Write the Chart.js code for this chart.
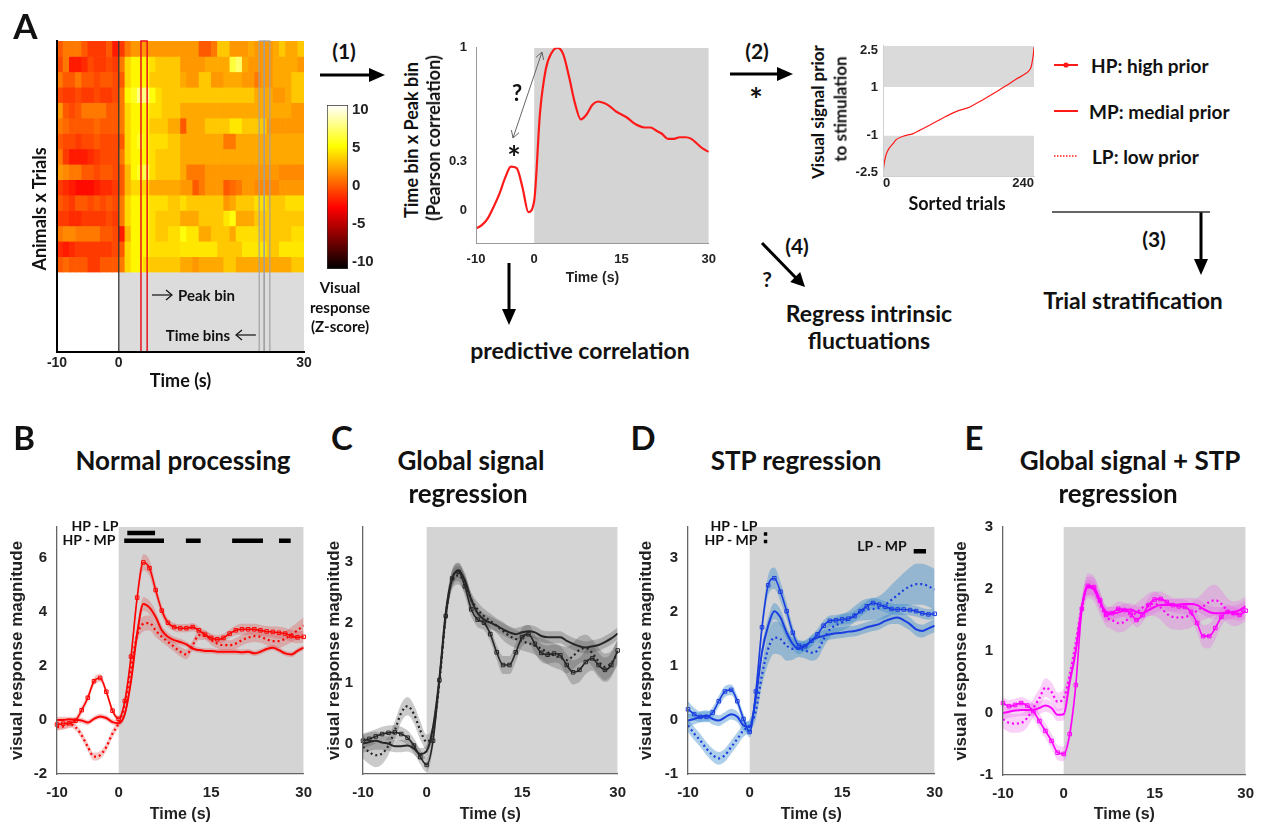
<!DOCTYPE html>
<html>
<head>
<meta charset="utf-8">
<script src="https://cdn.jsdelivr.net/npm/chart.js@4.4.1/dist/chart.umd.min.js"></script>
<style>
html,body{margin:0;padding:0;background:#fff;}
body{position:relative;width:1265px;height:826px;overflow:hidden;}
canvas{position:absolute;}
.tx{position:absolute;white-space:nowrap;font-family:Lato,"Open Sans",sans-serif;font-weight:700;color:#111;line-height:1;}
#ov{position:absolute;left:0;top:0;pointer-events:none;}
</style>
</head>
<body>
<script>
// ================= DATA =================
const TIME = [-10,-9,-8,-7,-6,-5,-4,-3,-2,-1,0,1,2,3,4,5,6,7,8,9,10,11,12,13,14,15,16,17,18,19,20,21,22,23,24,25,26,27,28,29,30];
const timeTicks = [-10,0,15,30];
const heatTicks = [-10,0,30];
const heatBins = [-9.5,-8.5,-7.5,-6.5,-5.5,-4.5,-3.5,-2.5,-1.5,-0.5,0.5,1.5,2.5,3.5,4.5,5.5,6.5,7.5,8.5,9.5,10.5,11.5,12.5,13.5,14.5,15.5,16.5,17.5,18.5,19.5,20.5,21.5,22.5,23.5,24.5,25.5,26.5,27.5,28.5,29.5];
const heatRows = [
 [0,1,1,1,0,-1,-1,-1,0,-2, -1,1,2,2,2,2,2,2,2,2, 2,2,2,0,0,1,3.5,3.5,2,2, 2,2.5,2,2,2,2.5,3.5,2.5,2.5,3.5],
 [-0.5,1,-2,-2,-1.5,-0.5,-1,-1,-0.5,-1, 1,4,5,5,5,4.2,3.5,3.5,3.5,3.5, 2,2,2,2,2.5,2.5,2.5,2.5,6.5,7.5, 2.5,2,2,2,2,2.5,2.5,2.5,2.5,2],
 [1,0,0,1,0,0,-0.5,0,0,-0.5, 0,4,5,5,5,3.5,3.5,3.5,3.5,3.5, 2.5,2,2,3.5,3.5,2,2,2.5,2.5,2.5, 2,2,1,2,2,2.5,2.5,2.5,3.5,3.5],
 [-0.5,-1,-1,-0.5,-1,-1,-0.5,-1,-1,-0.5, 1,5,6,8,8,5.5,4.2,3.5,3.5,3.5, 3.5,3.5,3.5,3.5,3.5,3.5,3.5,3.5,3.5,3.5, 3.5,3.5,2.5,2.5,2.5,2,2,2.5,3.5,3.5],
 [2,0,-0.5,0,1,1,1,1,0,0, 1,4,5,5,5,4.2,4.2,3.5,3.5,3.5, 2.5,2.5,2.5,2.5,2.5,2.5,2.5,2.5,2.5,2.5, 2.5,2.5,2.5,2.5,2.5,2.5,2.5,2.5,2,2],
 [1,0.5,0,0,0,0,0.5,0,0,0, 1,4,5,5,5,3.5,3.5,3.5,2.5,2.5, 0,2.5,2.5,2.5,3.5,3.5,3.5,3.5,4.5,4.5, 3.5,3.5,3.5,3.5,2,2,2,2,2,2],
 [0,-0.5,-0.5,-1,-0.5,-0.5,0,-0.5,-0.5,-0.5, 0,4,5,6,5,4.2,4.2,4.2,3.5,3.5, 2.5,2.5,2.5,2.5,2.5,2.5,2.5,1,1,2.5, 2.5,2.5,2.5,2.5,2.5,2.5,2.5,2.5,2.5,2.5],
 [1,-1,-2,-2,-2,-1.5,-1,-0.5,-0.5,-0.5, 1,4,5,5,5,4.2,3.5,3.5,3.5,3.5, 2.5,2.5,2.5,2.5,2.5,2.5,2.5,2.5,2.5,2.5, 2.5,2.5,2.5,2.5,2.5,2.5,2.5,2.5,2.5,2.5],
 [2,1.5,1,1,0,0,-0.5,0,0,-0.5, 0,3,5,6,7,4.2,3.5,3.5,3.5,3.5, 2.5,1,1,1,2,2,2,2,2,2, 2,2,2,2,2,2,1.5,1.5,1.5,1.5],
 [-1,-1.5,-2,-2.5,-2.5,-2.5,-2,-1.5,-1.5,-1, 0,3,4,4,4,2.5,2.5,2.5,2.5,2.5, 2,2,0,1,2,2,2,0,0.5,1, 2,2,1.5,1.5,1.5,1.5,2,2,2,2],
 [0,-0.5,-1,0,0,-0.5,0,-0.5,0,-0.5, 1,4,5,5,5,4.2,4.2,4.2,3.5,3.5, 4.2,3.5,3.5,3.5,3.5,3.5,3.5,2,2.5,3.5, 3.5,3.5,4.2,4.2,3.5,3.5,3.5,4.2,4.2,4.2],
 [-1,-1,-1.5,-1.5,-1,-1,-1,-1,-0.5,-1, 1,4,5,5,5,4.2,3.5,3.5,3.5,3.5, 2.5,2.5,2.5,3.5,3.5,3.5,3.5,4.5,5.5,2.5, 2.5,2.5,3.5,3.5,3.5,3.5,3.5,3.5,3.5,3.5],
 [1,1.5,1.5,1,1,1,1,0,0,-0.5, -2,3,5,5,5,4.2,3.5,3.5,4.2,4.2, 5.5,4.5,4.5,2.5,2.5,3.5,3.5,3.5,2.5,4.2, 4.2,4.2,4.2,3.5,3.5,3.5,3.5,3.5,4.2,4.2],
 [-1.5,-2,-1.5,-1,-1,-1,-1,-1,-1,-0.5, 0,4,5,5,5,4.2,4.2,4.2,4.2,4.2, 4.5,4.5,4.5,4.5,4.5,4.5,3.5,3.5,3.5,3.5, 4.5,4.5,4.5,4.5,3.5,3.5,4.5,4.5,4.5,4.5],
 [0,0.5,0,0,0,-1,-1,0,0,0, 1,4,5,5,4,3.5,3.5,3.5,3.5,3.5, 2.5,2.5,2,2.5,2.5,2.5,2.5,3.5,3.5,2.5, 2.5,2.5,2.5,2.5,2.5,2.5,2.5,2.5,3.5,3.5]
];
const zTicks = [-10,-5,0,5,10];
const corrVals = [-0.11,-0.09,-0.05,0.02,0.1,0.2,0.27,0.26,0.14,-0.01,0.06,0.6,0.87,0.97,1.0,0.96,0.82,0.66,0.56,0.59,0.65,0.67,0.66,0.64,0.61,0.59,0.57,0.54,0.52,0.51,0.51,0.49,0.47,0.44,0.44,0.45,0.45,0.44,0.41,0.38,0.36];
const corrTicks = [0,0.3,1];
const sortedIdx = [0,1,4,8,16,21,32,48,58,74,96,117,138,159,181,196,212,226,234,236,239,240];
const sortedVal = [-2.62,-2.3,-1.86,-1.59,-1.32,-1.16,-1.02,-0.91,-0.78,-0.57,-0.26,0,0.18,0.48,0.82,1.06,1.33,1.54,1.74,1.88,2.35,2.63];
const sortedXTicks = [0,240];
const sortedYTicks = [-2.5,-1,1,2.5];

// B: normal processing
const normHP = [-0.17,-0.14,-0.12,-0.03,0.36,0.82,1.43,1.55,1.04,0.34,0.04,0.7,2.34,4.52,5.82,5.61,4.8,4.04,3.59,3.43,3.39,3.39,3.43,3.31,3.15,3.03,2.98,3.03,3.19,3.31,3.35,3.35,3.35,3.31,3.27,3.25,3.22,3.19,3.1,3.05,3.07];
const normMP = [0,0,0.02,0,-0.02,-0.1,0.04,0.13,0.07,-0.08,-0.12,0.22,1.43,3.19,4.28,4.15,3.8,3.31,3.07,2.95,2.88,2.79,2.64,2.58,2.55,2.55,2.52,2.52,2.52,2.52,2.5,2.52,2.46,2.52,2.62,2.67,2.58,2.46,2.42,2.55,2.67];
const normLP = [-0.27,-0.24,-0.15,-0.27,-0.57,-1.0,-1.36,-1.3,-1.0,-0.5,-0.12,0.58,1.92,3.13,3.55,3.58,3.31,3.07,2.88,2.7,2.52,2.42,2.76,3.13,3.13,2.95,2.82,2.76,2.76,2.82,2.95,3.04,3.1,3.07,2.98,2.91,2.91,3.0,3.15,3.31,3.49];
const normHPerr = [0.2,0.2,0.18,0.15,0.15,0.15,0.15,0.15,0.15,0.12,0.12,0.15,0.2,0.25,0.3,0.3,0.25,0.2,0.15,0.15,0.15,0.15,0.15,0.15,0.15,0.15,0.15,0.15,0.15,0.18,0.2,0.2,0.2,0.2,0.2,0.2,0.22,0.22,0.22,0.22,0.22];
const normMPerr = [0.12,0.12,0.1,0.1,0.1,0.1,0.1,0.1,0.1,0.1,0.1,0.12,0.18,0.22,0.25,0.25,0.22,0.18,0.15,0.12,0.12,0.1,0.1,0.1,0.1,0.1,0.1,0.1,0.1,0.1,0.1,0.1,0.1,0.1,0.1,0.1,0.1,0.1,0.1,0.1,0.1];
const normLPerr = [0.12,0.12,0.12,0.12,0.15,0.15,0.15,0.15,0.15,0.15,0.15,0.18,0.22,0.25,0.28,0.28,0.25,0.2,0.18,0.18,0.18,0.18,0.18,0.18,0.18,0.18,0.18,0.18,0.18,0.2,0.2,0.2,0.22,0.22,0.22,0.25,0.25,0.25,0.28,0.3,0.3];
const normSigHPLP = [[1.4,5.9]];
const normSigHPMP = [[0.9,7.35],[10.9,13.3],[18.4,23.4],[26,27.9]];

// C: global signal regression
const gsrHP = [0.05,0.08,0.12,0.16,0.18,0.19,0.16,0.1,-0.03,-0.22,-0.35,0.05,1.05,2.11,2.73,2.84,2.6,2.22,2.05,2.0,1.81,1.51,1.3,1.3,1.51,1.76,1.81,1.65,1.5,1.47,1.49,1.46,1.3,1.18,1.22,1.35,1.41,1.3,1.22,1.3,1.54];
const gsrMP = [0,0.03,0.05,0.02,0,-0.04,-0.04,-0.03,-0.08,-0.17,-0.12,0.27,1.08,2.16,2.73,2.86,2.7,2.38,2.16,2.05,2.0,1.95,1.89,1.84,1.81,1.84,1.86,1.84,1.78,1.76,1.76,1.76,1.7,1.65,1.61,1.59,1.61,1.63,1.68,1.74,1.82];
const gsrLP = [-0.05,-0.14,-0.19,-0.16,-0.03,0.22,0.51,0.62,0.49,0.22,0.03,0.22,1.0,2.11,2.7,2.78,2.65,2.38,2.22,2.11,2.03,1.95,1.86,1.78,1.73,1.69,1.66,1.62,1.57,1.51,1.46,1.42,1.38,1.45,1.55,1.58,1.5,1.36,1.27,1.33,1.5];
const gsrHPerr = [0.12,0.12,0.12,0.12,0.12,0.12,0.12,0.12,0.12,0.12,0.12,0.12,0.12,0.15,0.15,0.15,0.15,0.12,0.12,0.12,0.12,0.12,0.15,0.15,0.15,0.15,0.15,0.15,0.15,0.15,0.15,0.15,0.18,0.2,0.2,0.2,0.2,0.2,0.2,0.2,0.2];
const gsrMPerr = [0.15,0.15,0.15,0.12,0.12,0.1,0.1,0.1,0.1,0.1,0.1,0.1,0.1,0.12,0.12,0.12,0.12,0.1,0.1,0.1,0.1,0.1,0.1,0.1,0.1,0.1,0.1,0.1,0.1,0.1,0.1,0.1,0.1,0.1,0.1,0.1,0.1,0.1,0.1,0.1,0.1];
const gsrLPerr = [0.2,0.2,0.2,0.18,0.15,0.15,0.15,0.15,0.15,0.15,0.12,0.12,0.12,0.15,0.15,0.15,0.15,0.12,0.12,0.12,0.12,0.12,0.15,0.15,0.15,0.15,0.15,0.15,0.18,0.2,0.2,0.2,0.22,0.22,0.22,0.22,0.22,0.22,0.22,0.2,0.2];

// D: STP regression
const stpHP = [0.2,0.11,0.06,0.06,0.14,0.35,0.53,0.56,0.35,0.02,-0.22,0.53,1.72,2.5,2.63,2.38,2.02,1.62,1.38,1.37,1.47,1.59,1.75,1.84,1.85,1.87,1.88,1.93,2.02,2.11,2.17,2.14,2.1,2.06,2.05,2.05,2.04,2.02,1.98,1.96,1.97];
const stpMP = [-0.01,0.02,0.06,0.08,0.02,-0.01,0.05,0.11,0.06,-0.1,-0.13,0.41,1.26,1.75,2.02,1.9,1.62,1.41,1.32,1.38,1.47,1.53,1.56,1.59,1.61,1.62,1.64,1.65,1.68,1.72,1.75,1.78,1.84,1.88,1.9,1.85,1.78,1.68,1.65,1.7,1.75];
const stpLP = [-0.1,-0.25,-0.38,-0.53,-0.65,-0.71,-0.65,-0.5,-0.35,-0.19,-0.1,0.17,0.84,1.32,1.53,1.5,1.38,1.32,1.32,1.29,1.25,1.29,1.5,1.68,1.76,1.81,1.87,1.96,2.02,2.05,2.06,2.08,2.14,2.23,2.32,2.41,2.48,2.52,2.52,2.48,2.42];
const stpHPerr = [0.15,0.12,0.1,0.1,0.1,0.1,0.1,0.1,0.1,0.1,0.1,0.12,0.15,0.18,0.2,0.18,0.15,0.12,0.1,0.1,0.1,0.1,0.1,0.1,0.1,0.1,0.1,0.1,0.1,0.1,0.1,0.1,0.1,0.1,0.1,0.1,0.1,0.1,0.1,0.1,0.1];
const stpMPerr = [0.12,0.1,0.1,0.1,0.1,0.1,0.1,0.1,0.1,0.1,0.1,0.1,0.12,0.15,0.15,0.15,0.12,0.1,0.1,0.1,0.1,0.1,0.1,0.1,0.1,0.1,0.1,0.1,0.1,0.1,0.1,0.1,0.1,0.1,0.12,0.12,0.12,0.12,0.12,0.12,0.12];
const stpLPerr = [0.12,0.12,0.12,0.12,0.12,0.12,0.12,0.12,0.12,0.12,0.12,0.15,0.2,0.28,0.3,0.3,0.28,0.2,0.15,0.15,0.15,0.15,0.15,0.15,0.15,0.15,0.15,0.15,0.18,0.2,0.2,0.22,0.25,0.28,0.3,0.32,0.35,0.38,0.38,0.38,0.38];
const stpSigHPLP = [[2.3,2.85]];
const stpSigHPMP = [[2.3,2.85]];
const stpSigLPMP = [[26.6,28.6]];

// E: global signal + STP regression
const bothHP = [0.16,0.11,0.13,0.16,0.12,0.03,-0.13,-0.29,-0.45,-0.64,-0.66,-0.34,0.45,1.68,2.05,2.03,1.82,1.58,1.61,1.68,1.66,1.61,1.5,1.58,1.74,1.83,1.84,1.79,1.74,1.72,1.71,1.63,1.45,1.24,1.24,1.37,1.55,1.63,1.61,1.58,1.65];
const bothMP = [0,0.02,0.04,0.05,0.05,0.05,0.08,0.12,0.08,-0.03,-0.02,0.5,1.0,1.71,2.03,1.99,1.79,1.63,1.61,1.62,1.66,1.67,1.63,1.61,1.66,1.71,1.74,1.74,1.74,1.75,1.76,1.76,1.74,1.68,1.63,1.61,1.61,1.62,1.63,1.66,1.72];
const bothLP = [-0.1,-0.16,-0.17,-0.16,-0.08,0.08,0.24,0.41,0.34,0.18,0.24,0.61,1.13,1.71,2.05,2.0,1.76,1.55,1.5,1.45,1.47,1.55,1.62,1.7,1.75,1.76,1.7,1.6,1.55,1.54,1.55,1.58,1.65,1.72,1.79,1.82,1.76,1.65,1.6,1.62,1.68];
const bothHPerr = [0.1,0.1,0.1,0.1,0.1,0.12,0.12,0.12,0.12,0.12,0.12,0.12,0.12,0.15,0.15,0.15,0.15,0.12,0.12,0.12,0.12,0.12,0.12,0.12,0.12,0.12,0.12,0.12,0.12,0.12,0.12,0.12,0.15,0.18,0.2,0.18,0.15,0.12,0.1,0.1,0.1];
const bothMPerr = [0.1,0.1,0.1,0.1,0.1,0.1,0.1,0.1,0.1,0.1,0.1,0.1,0.1,0.12,0.12,0.12,0.12,0.1,0.1,0.1,0.1,0.1,0.1,0.1,0.1,0.1,0.1,0.1,0.1,0.1,0.1,0.1,0.1,0.1,0.1,0.1,0.1,0.1,0.1,0.1,0.1];
const bothLPerr = [0.15,0.15,0.15,0.15,0.15,0.15,0.15,0.15,0.15,0.15,0.15,0.15,0.15,0.18,0.2,0.2,0.18,0.15,0.15,0.15,0.15,0.15,0.15,0.15,0.18,0.2,0.2,0.2,0.2,0.2,0.2,0.2,0.2,0.22,0.25,0.25,0.22,0.2,0.2,0.2,0.2];

// ================= HELPERS =================
Chart.defaults.font.family = '"Liberation Sans", Arial, sans-serif';
Chart.defaults.color = '#1a1a1a';
Chart.defaults.plugins.legend.display = false;
Chart.defaults.plugins.tooltip.enabled = false;
Chart.defaults.animation = false;

const Z_MIN = -10.9, Z_MAX = 10.63;
function hot(v){
  let t = (v - Z_MIN) / (Z_MAX - Z_MIN); t = Math.max(0, Math.min(1, t));
  const r = Math.min(1, t / 0.375), g = Math.max(0, Math.min(1, (t - 0.375) / 0.375)), b = Math.max(0, (t - 0.75) / 0.25);
  return 'rgb(' + Math.round(r*255) + ',' + Math.round(g*255) + ',' + Math.round(b*255) + ')';
}
const plainTick = v => String(v);
function boxes(fills, strokes){
  function rect(chart, b){
    const a = chart.chartArea, x = chart.scales.x, y = chart.scales.y;
    const x0 = b.x0 === undefined ? a.left : x.getPixelForValue(b.x0);
    const x1 = b.x1 === undefined ? a.right : x.getPixelForValue(b.x1);
    const y0 = b.y0 === undefined ? a.bottom : y.getPixelForValue(b.y0);
    const y1 = b.y1 === undefined ? a.top : y.getPixelForValue(b.y1);
    return [Math.min(x0,x1), Math.min(y0,y1), Math.abs(x1-x0), Math.abs(y1-y0)];
  }
  return {
    id: 'bx',
    beforeDraw(chart){
      const ctx = chart.ctx, a = chart.chartArea;
      ctx.save(); ctx.beginPath(); ctx.rect(a.left, a.top, a.width, a.height); ctx.clip();
      (fills||[]).forEach(b => { ctx.fillStyle = b.color; const r = rect(chart, b); ctx.fillRect(r[0], r[1], r[2], r[3]); });
      ctx.restore();
    },
    afterDatasetsDraw(chart){
      const ctx = chart.ctx;
      ctx.save();
      (strokes||[]).forEach(b => { ctx.strokeStyle = b.color; ctx.lineWidth = b.lw; const r = rect(chart, b);
        if (r[2] < 0.5) { ctx.beginPath(); ctx.moveTo(r[0], r[1]); ctx.lineTo(r[0], r[1]+r[3]); ctx.stroke(); }
        else ctx.strokeRect(r[0], r[1], r[2], r[3]); });
      ctx.restore();
    }
  };
}
function mkCanvas(left, top, w, h){
  const c = document.createElement('canvas');
  c.width = w; c.height = h;
  c.style.left = left + 'px'; c.style.top = top + 'px'; c.style.width = w + 'px'; c.style.height = h + 'px';
  document.body.appendChild(c);
  return c;
}
function framed(g, config){
  const w = g.R - g.cl + g.pr, h = g.B - g.ct + g.xh;
  const c = mkCanvas(g.cl, g.ct, w, h);
  const o = config.options;
  o.responsive = false; o.maintainAspectRatio = false; o.devicePixelRatio = 1; o.animation = false;
  o.layout = {padding: {left: 0, top: g.T - g.ct, right: g.pr, bottom: 0}};
  o.scales.x.afterFit = s => { s.height = g.xh; };
  o.scales.y.afterFit = s => { s.width = g.L - g.cl; };
  return new Chart(c, config);
}
function setTicks(vals){ return s => { s.ticks = vals.map(v => ({value: v})); }; }
function txt(s, x, y, size, o){
  o = o || {};
  const d = document.createElement('div');
  d.className = 'tx'; d.textContent = s;
  d.style.fontSize = size + 'px';
  if (o.fam) d.style.fontFamily = o.fam;
  if (o.color) d.style.color = o.color;
  d.style.left = x + 'px'; d.style.top = y + 'px';
  let tr = o.left ? 'translate(0,-50%)' : 'translate(-50%,-50%)';
  if (o.rot) tr += ' rotate(-90deg)';
  d.style.transform = tr;
  document.body.appendChild(d);
}
function pts(vals){ return TIME.map((t,i) => ({x: t, y: vals[i]})); }
function band(vals, err, sign){ return TIME.map((t,i) => ({x: t, y: vals[i] + sign*err[i]})); }
function sigSet(segs, yv, w){
  const d = [];
  segs.forEach((s,i) => { if (i) d.push({x: (segs[i-1][1] + s[0]) / 2, y: null}); d.push({x: s[0], y: yv}, {x: s[1], y: yv}); });
  return {data: d, borderColor: '#000', borderWidth: w, pointRadius: 0, spanGaps: false, order: 0, borderCapStyle: 'butt', fill: false};
}

// ================= PANEL A: heatmap =================
framed({L:57, T:41, R:304, B:352, cl:20, ct:31, pr:14, xh:40}, {
  type: 'bar',
  data: { datasets: heatRows.map((row, r) => ({
    data: heatBins.map(c => ({x: c, y: [heatRows.length - 1 - r, heatRows.length - r]})),
    backgroundColor: row.map(hot), borderWidth: 0, grouped: false, barPercentage: 1, categoryPercentage: 1
  })) },
  options: {
    scales: {
      x: {type: 'linear', min: -10, max: 30, offset: false, afterBuildTicks: setTicks(heatTicks),
          grid: {display: false, drawTicks: false, offset: false}, border: {display: true, color: '#000', width: 2, z: 1},
          ticks: {font: {size: 14, weight: 'bold'}, color: '#222', padding: 3, maxRotation: 0, autoSkip: false, callback: plainTick},
          title: {display: true, text: 'Time (s)', font: {family: 'Lato', size: 18, weight: 'bold'}, color: '#111', padding: {top: 0, bottom: 0}}},
      y: {type: 'linear', min: -5.19, max: 15, grid: {display: false, drawTicks: false}, border: {display: true, color: '#000', width: 2, z: 1},
          ticks: {display: false}}
    }
  },
  plugins: [boxes(
    [{x0: 0, x1: 30, y0: -5.19, y1: 0, color: '#dcdcdc'}],
    [{x0: 0, x1: 0, color: 'rgba(50,50,50,0.85)', lw: 1.5},
     {x0: 22.74, x1: 23.55, color: '#a0a0a0', lw: 1.2},
     {x0: 23.55, x1: 24.47, color: '#a0a0a0', lw: 1.2},
     {x0: 3.6, x1: 4.6, color: '#e8141e', lw: 1.5}]
  )]
});

// colorbar
(function(){
  const c = mkCanvas(327, 92, 21 + 34, 190);
  new Chart(c, {
    type: 'bar',
    data: {labels: ['z'], datasets: [{data: [[Z_MIN, Z_MAX]], barPercentage: 1, categoryPercentage: 1, borderWidth: 1, borderColor: '#333', borderSkipped: false,
      backgroundColor: (ctx) => { const ch = ctx.chart, a = ch.chartArea; if (!a) return '#f80';
        const g = ch.ctx.createLinearGradient(0, a.bottom, 0, a.top);
        g.addColorStop(0, hot(Z_MIN)); g.addColorStop(0.375, hot(Z_MIN + 0.375*(Z_MAX-Z_MIN))); g.addColorStop(0.75, hot(Z_MIN + 0.75*(Z_MAX-Z_MIN))); g.addColorStop(1, hot(Z_MAX));
        return g; }}]},
    options: {responsive: false, devicePixelRatio: 1, animation: false,
      layout: {padding: {top: 10, bottom: 10, left: 0, right: 0}},
      scales: {x: {display: false},
        y: {position: 'right', min: Z_MIN, max: Z_MAX, afterBuildTicks: setTicks(zTicks), afterFit: s => { s.width = 34; },
            grid: {display: false, drawTicks: false}, border: {display: false},
            ticks: {font: {size: 15, weight: 'bold'}, color: '#222', padding: 4, callback: plainTick}}}}
  });
})();

// ================= PANEL A: correlation =================
framed({L:476, T:43, R:711, B:243, cl:440, ct:31, pr:14, xh:44}, {
  type: 'line',
  data: {datasets: [{data: pts(corrVals), borderColor: '#ff1a1a', borderWidth: 2.2, pointRadius: 0, cubicInterpolationMode: 'monotone', fill: false}]},
  options: {
    scales: {
      x: {type: 'linear', min: -10, max: 30, afterBuildTicks: setTicks(timeTicks), grid: {display: false, drawTicks: false},
          border: {display: true, color: '#999', width: 1, z: 1},
          ticks: {font: {size: 13, weight: 'bold'}, color: '#222', padding: 9, maxRotation: 0, autoSkip: false, callback: plainTick},
          title: {display: true, text: 'Time (s)', font: {size: 14, weight: 'bold'}, color: '#222', padding: {top: 0, bottom: 0}}},
      y: {type: 'linear', min: -0.2, max: 1, afterBuildTicks: setTicks(corrTicks), grid: {display: false, drawTicks: false},
          border: {display: true, color: '#999', width: 1, z: 1},
          ticks: {font: {size: 13, weight: 'bold'}, color: '#222', padding: 9, callback: plainTick}}
    }
  },
  plugins: [boxes([{x0: 0, x1: 30, color: '#d4d4d4'}], [])]
});

// ================= PANEL A: sorted trials =================
framed({L:883, T:45, R:1034, B:176, cl:846, ct:33, pr:8, xh:18}, {
  type: 'line',
  data: {datasets: [{data: sortedIdx.map((x,i) => ({x: x, y: sortedVal[i]})), borderColor: '#ff1a1a', borderWidth: 1.2, pointRadius: 0, cubicInterpolationMode: 'monotone', fill: false}]},
  options: {
    scales: {
      x: {type: 'linear', min: 0, max: 240, afterBuildTicks: setTicks(sortedXTicks), grid: {display: false, drawTicks: false},
          border: {display: true, color: '#d0d0d0', width: 1, z: 1},
          ticks: {font: {size: 13, weight: 'bold'}, color: '#222', padding: 0, maxRotation: 0, autoSkip: false, align: 'inner', callback: plainTick}},
      y: {type: 'linear', min: -2.65, max: 2.69, afterBuildTicks: setTicks(sortedYTicks), grid: {display: false, drawTicks: false},
          border: {display: true, color: '#d0d0d0', width: 1, z: 1},
          ticks: {font: {size: 13, weight: 'bold'}, color: '#222', padding: 5, callback: plainTick}}
    }
  },
  plugins: [boxes([{y0: 1, y1: 2.69, color: '#dadada'}, {y0: -2.65, y1: -1, color: '#dadada'}], [])]
});

// ================= PANELS B-E =================
function panel(g, yMin, yMax, yTicks, S, col, sigs){
  const ds = [];
  [[S.hp, S.hpe], [S.mp, S.mpe], [S.lp, S.lpe]].forEach(p => {
    ds.push({data: band(p[0], p[1], 1), fill: '+1', backgroundColor: col.band, borderWidth: 0, pointRadius: 0, order: 10, cubicInterpolationMode: 'monotone'});
    ds.push({data: band(p[0], p[1], -1), fill: false, borderWidth: 0, pointRadius: 0, order: 10, cubicInterpolationMode: 'monotone'});
  });
  ds.push({data: pts(S.lp), borderColor: col.line, borderWidth: 2.2, borderDash: [2, 3], pointRadius: 0, order: 3, cubicInterpolationMode: 'monotone', fill: false});
  ds.push({data: pts(S.mp), borderColor: col.line, borderWidth: 2, pointRadius: 0, order: 2, cubicInterpolationMode: 'monotone', fill: false});
  ds.push({data: pts(S.hp), borderColor: col.line, borderWidth: 1.6, pointStyle: 'rect', pointRadius: 2.5, pointBorderWidth: 1,
           pointBorderColor: col.line, pointBackgroundColor: 'rgba(0,0,0,0)', order: 1, cubicInterpolationMode: 'monotone', fill: false, clip: 6});
  (sigs || []).forEach(s => ds.push(sigSet(s[0], s[1], s[2])));
  return framed(g, {
    type: 'line',
    data: {datasets: ds},
    options: {
      scales: {
        x: {type: 'linear', min: -10, max: 30, afterBuildTicks: setTicks(timeTicks), grid: {display: false, drawTicks: false},
            border: {display: true, color: '#666', width: 1.3, z: 1},
            ticks: {font: {size: 15, weight: 'bold'}, color: '#222', padding: 10, maxRotation: 0, autoSkip: false, callback: plainTick},
            title: {display: true, text: 'Time (s)', font: {size: 16, weight: 'bold'}, color: '#222', padding: {top: 0, bottom: 0}}},
        y: {type: 'linear', min: yMin, max: yMax, afterBuildTicks: setTicks(yTicks), grid: {display: false, drawTicks: false},
            border: {display: true, color: '#666', width: 1.3, z: 1},
            ticks: {font: {size: 15, weight: 'bold'}, color: '#222', padding: 10, callback: plainTick},
            title: {display: true, text: 'visual response magnitude', font: {size: 17, weight: 'bold'}, color: '#222', padding: {top: 0, bottom: 0}}}
      }
    },
    plugins: [boxes([{x0: 0, x1: 30, color: '#d4d4d4'}], [])]
  });
}
panel({L:57, T:523, R:306, B:774, cl:7, ct:508, pr:16, xh:50}, -2, 7.13, [-2,0,2,4,6],
  {hp: normHP, mp: normMP, lp: normLP, hpe: normHPerr, mpe: normMPerr, lpe: normLPerr},
  {line: '#ff0000', band: 'rgba(225,70,70,0.3)'},
  [[normSigHPLP, 6.91, 4.5], [normSigHPMP, 6.62, 4.5]]);
panel({L:363, T:522, R:620, B:774, cl:324, ct:508, pr:16, xh:50}, -0.5, 3.58, [0,1,2,3],
  {hp: gsrHP, mp: gsrMP, lp: gsrLP, hpe: gsrHPerr, mpe: gsrMPerr, lpe: gsrLPerr},
  {line: '#262626', band: 'rgba(80,80,80,0.3)'}, []);
panel({L:688, T:522, R:937, B:774, cl:636, ct:508, pr:16, xh:50}, -1, 3.58, [-1,0,1,2,3],
  {hp: stpHP, mp: stpMP, lp: stpLP, hpe: stpHPerr, mpe: stpMPerr, lpe: stpLPerr},
  {line: '#1a3de0', band: 'rgba(60,140,205,0.42)'},
  [[stpSigHPLP, 3.45, 3.5], [stpSigHPMP, 3.31, 3.5], [stpSigLPMP, 3.13, 4.5]]);
panel({L:1003, T:522, R:1252, B:775, cl:951, ct:508, pr:12, xh:49}, -1, 3, [-1,0,1,2,3],
  {hp: bothHP, mp: bothMP, lp: bothLP, hpe: bothHPerr, mpe: bothMPerr, lpe: bothLPerr},
  {line: '#ff00ff', band: 'rgba(235,90,235,0.28)'}, []);

// ================= TEXT =================
txt('A', 25.5, 25, 35);
txt('Animals x Trials', 39, 209, 18, {rot: true});
txt('Peak bin', 178, 295, 15, {left: true});
txt('Time bins', 198, 335, 15);
txt('Visual', 340, 287, 15); txt('response', 340, 307, 15); txt('(Z-score)', 340, 326, 15);
txt('(1)', 344, 50, 21);
txt('Time bin x Peak bin', 411, 140, 18, {rot: true});
txt('(Pearson correlation)', 433, 138, 18, {rot: true});
txt('?', 517, 93, 22);
txt('*', 514, 158, 32);
txt('predictive correlation', 580, 350, 23);
txt('(2)', 757, 50, 21);
txt('*', 756, 100, 32);
txt('Visual signal prior', 817, 112, 17, {rot: true});
txt('to stimulation', 840, 109, 17, {rot: true});
txt('Sorted trials', 957, 203, 18);
txt('HP: high prior', 1091, 65, 19, {left: true});
txt('MP: medial prior', 1089, 111, 19, {left: true});
txt('LP: low prior', 1092, 156, 19, {left: true});
txt('(3)', 1154, 238, 21);
txt('Trial stratification', 1133, 300, 23);
txt('(4)', 797, 245, 21);
txt('?', 767, 278, 21);
txt('Regress intrinsic', 869, 313, 23);
txt('fluctuations', 869, 340, 23);

txt('B', 24, 437, 33); txt('C', 342, 437, 33); txt('D', 643, 437, 33); txt('E', 974, 437, 33);
txt('Normal processing', 183, 460, 26);
txt('Global signal', 471, 460, 26); txt('regression', 468, 493, 26);
txt('STP regression', 796, 460, 26);
txt('Global signal + STP', 1130, 460, 26); txt('regression', 1118, 493, 26);
txt('HP - LP', 95, 526, 14); txt('HP - MP', 89, 540, 14);
txt('HP - LP', 734, 526, 14); txt('HP - MP', 731, 540, 14); txt('LP - MP', 882, 546, 14);

// ================= ARROWS / LEGEND (overlay) =================
const svgNS = 'http://www.w3.org/2000/svg';
const svg = document.createElementNS(svgNS, 'svg');
svg.setAttribute('id', 'ov'); svg.setAttribute('width', 1265); svg.setAttribute('height', 826);
svg.innerHTML = `
<g stroke="#000" stroke-width="3" fill="none">
  <line x1="320" y1="75" x2="372" y2="75"/>
  <line x1="730" y1="74" x2="780" y2="74"/>
  <line x1="509" y1="263" x2="509" y2="312"/>
  <line x1="762" y1="243" x2="796" y2="278"/>
  <line x1="1201" y1="212" x2="1201" y2="262"/>
</g>
<g fill="#000">
  <polygon points="385,75 369,68 369,82"/>
  <polygon points="793,74 777,67 777,81"/>
  <polygon points="509,325 502,309 516,309"/>
  <polygon points="805,287 790.2,281.9 800.2,272.1"/>
  <polygon points="1201,275 1194,259 1208,259"/>
</g>
<line x1="1052" y1="212" x2="1210" y2="212" stroke="#333" stroke-width="1.5"/>
<g stroke="#111" stroke-width="1.2" fill="none">
  <line x1="152" y1="295" x2="172" y2="295"/><polyline points="166,290 172,295 166,300"/>
  <line x1="236" y1="335" x2="256" y2="335"/><polyline points="242,330 236,335 242,340"/>
</g>
<g stroke="#666" stroke-width="1" fill="none">
  <line x1="513" y1="138" x2="542" y2="52"/>
  <polyline points="536,57.3 542,52 543.6,59.9"/>
  <polyline points="519,132.7 513,138 511.4,130.1"/>
</g>
<g stroke="#ff1a1a" fill="none">
  <line x1="1054" y1="65" x2="1078" y2="65" stroke-width="2"/>
  <line x1="1054" y1="111" x2="1078" y2="111" stroke-width="2"/>
  <line x1="1054" y1="156" x2="1078" y2="156" stroke-width="1.6" stroke-dasharray="1.5,1.5"/>
</g>
<circle cx="1066" cy="65" r="2.6" fill="#ff1a1a"/>
`;
document.body.appendChild(svg);
</script>
</body>
</html>
